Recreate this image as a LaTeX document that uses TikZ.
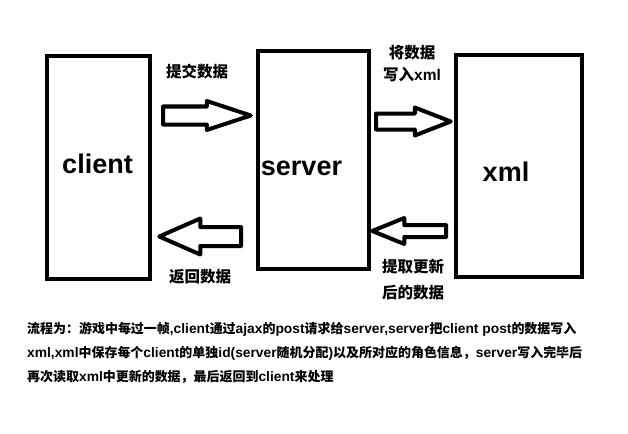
\documentclass[tikz,border=0pt]{standalone}
\usepackage{fontspec}
\setmainfont{Liberation Sans}
\newfontfamily\cjk{Noto Sans CJK SC}
\newfontfamily\cjknote{Noto Sans CJK SC}[Scale=0.94]
\usetikzlibrary{calc}

% hollow block arrow: tail, tip, shaft half width, head half width, head length
\newcommand{\fatarrow}[5]{%
  \coordinate (hb) at ($(#2)!#5!(#1)$);
  \draw[fat] ($(#1)!#3!90:(#2)$) -- ($(hb)!#3!90:(#2)$) -- ($(hb)!#4!90:(#2)$) -- (#2)
    -- ($(hb)!#4!-90:(#2)$) -- ($(hb)!#3!-90:(#2)$) -- ($(#1)!#3!-90:(#2)$) -- cycle;}

\begin{document}
\begin{tikzpicture}[
  x=1pt, y=-1pt,
  box/.style={draw, line width=4.5pt, inner sep=0pt},
  boxtext/.style={font=\fontsize{27}{30}\selectfont\bfseries, inner sep=0pt},
  fat/.style={draw, line width=4pt, line join=round},
  lab/.style={font=\fontsize{15.5}{22}\selectfont\bfseries\cjk, align=center}
]
\useasboundingbox (0,0) rectangle (628,433);
\node[box, minimum width=103pt, minimum height=223pt,
  label={[boxtext, xshift=-1pt, yshift=4pt]center:client}] (client) at (98.5,167.5) {};
\node[box, minimum width=111pt, minimum height=218pt,
  label={[boxtext, xshift=-12pt, yshift=-8pt]center:server}] (server) at (313.5,160) {};
\node[box, minimum width=126pt, minimum height=222pt,
  label={[boxtext, xshift=-13pt, yshift=-6pt]center:xml}] (xml) at (519,166) {};

\coordinate (p1) at (163,115.5);
\coordinate (q1) at ($(server.west |- p1)+(-5,0)$);
\coordinate (p2) at (241,236.5);
\coordinate (q2) at ($(client.east |- p2)+(7,0)$);
\coordinate (p3) at (376,121.5);
\coordinate (q3) at ($(xml.west |- p3)+(-3,0)$);
\coordinate (p4) at (446,231);
\coordinate (q4) at ($(server.east |- p4)+(1,0)$);
\fatarrow{p1}{q1}{9pt}{14.5pt}{44pt}
\fatarrow{p2}{q2}{9.5pt}{18pt}{41pt}
\fatarrow{p3}{q3}{8pt}{14pt}{36pt}
\fatarrow{p4}{q4}{6pt}{13pt}{32pt}

\node[lab] (sendlab) at (197,72) {提交数据};
\node[lab] (writelab) at (412,64) {将数据\\写入\rmfamily xml};
\node[lab] (backlab) at (200,277) {返回数据};
\node[lab] (readlab) at (413,280) {提取更新\\[4pt]后的数据};

\node[anchor=north west, inner sep=0pt, align=left, font=\fontsize{13.8}{24}\selectfont\bfseries] (desc) at (27,322.5)
  {{\cjknote 流程为：游戏中每过一帧},client{\cjknote 通过}ajax{\cjknote 的}post{\cjknote 请求给}server,server{\cjknote 把}client post{\cjknote 的数据写入}\\
   xml,xml{\cjknote 中保存每个}client{\cjknote 的单独}id(server{\cjknote 随机分配}){\cjknote 以及所对应的角色信息，}server{\cjknote 写入完毕后}\\
   {\cjknote 再次读取}xml{\cjknote 中更新的数据，最后返回到}client{\cjknote 来处理}};
\end{tikzpicture}
\end{document}
